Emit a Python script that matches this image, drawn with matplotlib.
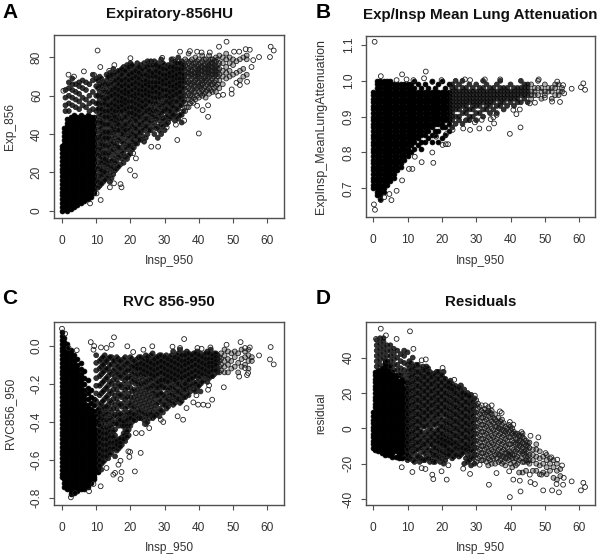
import matplotlib
matplotlib.use("Agg")
import matplotlib.pyplot as plt

plt.rcParams["font.family"] = ["Liberation Sans", "DejaVu Sans"]

# Each panel: one x per column of points, and the y values read along that column.
# The first *_core columns are the saturated part of the cloud, drawn solid.
# Past *_fade the cloud thins out and the rings show again.
# Singles are the stray points outside the clouds.

# Panel A, Exp_856
a_core = 11
a_fade = 36
a_col_x = [0.0, 0.6, 1.5, 2.5, 3.5, 4.5, 5.5, 6.5, 7.5, 8.5, 9.5,
           1, 2, 3, 4, 5, 6, 7, 8, 9, 10,
           11, 12, 13, 14, 15, 16, 17, 18, 19, 20, 21, 22, 23, 24, 25, 26, 27, 28, 29, 30,
           31, 32, 33, 34, 35, 36, 37, 38, 39, 40, 41, 42, 43, 44, 45, 46, 47, 48, 49, 50,
           51, 52, 53, 54,
           10.5, 11.5, 12.5, 13.5, 14.5, 15.5, 16.5, 17.5, 18.5, 19.5, 20.5, 21.5, 22.5, 23.5,
           24.5, 25.5, 26.5, 27.5, 28.5, 29.5, 30.5, 31.5, 32.5, 33.5, 34.5, 35.5, 36.5, 37.5,
           38.5, 39.5, 40.5, 41.5, 42.5, 43.5, 44.5, 45.5]
a_col_y = [
    [0, 2, 4, 6, 8, 10, 12, 14, 16, 18, 20, 22, 24, 26, 28, 30, 32, 34],
    [1, 3, 5, 7, 9, 11, 13, 15, 17, 19, 21, 23, 25, 27, 29, 31, 33, 35, 37, 39, 41, 43],
    [0, 2, 4, 6, 8, 10, 12, 14, 16, 18, 20, 22, 24, 26, 28, 30, 32, 34, 36, 38, 40, 42, 44, 46, 48],
    [1, 3, 5, 7, 9, 11, 13, 15, 17, 19, 21, 23, 25, 27, 29, 31, 33, 35, 37, 39, 41, 43, 45, 47, 49],
    [2, 4, 6, 8, 10, 12, 14, 16, 18, 20, 22, 24, 26, 28, 30, 32, 34, 36, 38, 40, 42, 44, 46, 48, 50],
    [3, 5, 7, 9, 11, 13, 15, 17, 19, 21, 23, 25, 27, 29, 31, 33, 35, 37, 39, 41, 43, 45, 47, 49],
    [4, 6, 8, 10, 12, 14, 16, 18, 20, 22, 24, 26, 28, 30, 32, 34, 36, 38, 40, 42, 44, 46, 48, 50],
    [5, 7, 9, 11, 13, 15, 17, 19, 21, 23, 25, 27, 29, 31, 33, 35, 37, 39, 41, 43, 45, 47, 49],
    [6, 8, 10, 12, 14, 16, 18, 20, 22, 24, 26, 28, 30, 32, 34, 36, 38, 40, 42, 44, 46, 48, 50],
    [7, 9, 11, 13, 15, 17, 19, 21, 23, 25, 27, 29, 31, 33, 35, 37, 39, 41, 43, 45, 47, 49],
    [9, 11, 13, 15, 17, 19, 21, 23, 25, 27, 29, 31, 33, 35, 37, 39, 41, 43, 45, 47, 49],
    [52, 55, 59, 63], [52, 56, 60, 64, 67], [55, 59, 63, 66, 69], [54, 58, 62, 66],
    [53, 57, 61, 65, 67], [55, 59, 64, 68], [54, 58, 63, 67], [52, 56, 60, 66],
    [53, 57, 62, 68, 71], [52, 56, 60, 65, 69],
    [13, 16, 20, 23, 27, 30, 33, 37, 40, 44, 47, 51, 54, 58, 62, 66, 70],
    [15, 19, 22, 26, 30, 34, 37, 41, 45, 48, 52, 55, 59, 63, 67],
    [17, 21, 25, 28, 32, 36, 39, 43, 47, 50, 54, 57, 60, 64, 68, 71],
    [15, 20, 24, 29, 33, 37, 41, 45, 48, 52, 55, 58, 61, 65, 69, 72],
    [19, 23, 27, 32, 36, 41, 44, 48, 51, 54, 57, 60, 63, 66, 70, 74],
    [22, 26, 31, 35, 40, 44, 47, 50, 53, 56, 59, 62, 65, 68, 71],
    [24, 29, 33, 38, 42, 46, 50, 53, 55, 58, 61, 64, 67, 70, 73],
    [25, 30, 35, 40, 43, 47, 51, 54, 57, 60, 62, 65, 68, 72, 75],
    [27, 32, 36, 41, 45, 49, 52, 55, 58, 61, 64, 67, 70, 73, 76],
    [30, 34, 38, 42, 46, 50, 53, 56, 59, 62, 65, 68, 71, 74, 77],
    [33, 37, 41, 45, 49, 52, 55, 58, 60, 63, 66, 69, 72, 75],
    [35, 39, 43, 47, 51, 54, 57, 60, 62, 65, 68, 71, 74, 77],
    [37, 41, 45, 49, 53, 56, 59, 62, 64, 67, 70, 73, 76],
    [36, 42, 46, 50, 54, 57, 60, 62, 65, 67, 70, 73, 77],
    [40, 44, 48, 52, 56, 59, 61, 64, 66, 69, 72, 75, 78],
    [42, 47, 51, 54, 57, 60, 63, 65, 68, 71, 74, 78],
    [40, 46, 50, 54, 58, 61, 64, 66, 69, 72, 75, 78],
    [38, 44, 49, 53, 57, 60, 63, 66, 68, 71, 74, 77],
    [40, 45, 50, 54, 58, 62, 64, 67, 70, 72, 75, 79],
    [42, 47, 52, 55, 59, 62, 65, 68, 70, 73, 76],
    [46, 50, 54, 57, 60, 63, 66, 68, 71, 73, 76],
    [49, 52, 55, 58, 61, 64, 66, 69, 71, 74, 77, 79],
    [47, 51, 55, 59, 62, 65, 67, 70, 72, 75, 78],
    [48, 53, 57, 60, 63, 66, 68, 71, 73, 76, 80],
    [46, 50, 55, 58, 62, 65, 68, 70, 72, 75, 78],
    [52, 56, 60, 63, 66, 68, 71, 73, 76, 79],
    [54, 58, 61, 64, 67, 70, 72, 74, 77, 82],
    [57, 60, 63, 66, 69, 71, 73, 76, 79],
    [58, 62, 65, 68, 70, 72, 74, 77, 80],
    [59, 62, 65, 67, 70, 72, 74, 76, 79],
    [60, 63, 66, 68, 71, 73, 75, 78, 81],
    [59, 62, 65, 68, 70, 72, 74, 76, 79],
    [61, 64, 67, 70, 72, 74, 76, 78, 81],
    [62, 66, 69, 71, 73, 75, 77, 79],
    [62, 65, 68, 71, 73, 75, 78, 80],
    [64, 68, 71, 74, 77, 81],
    [66, 70, 73, 77, 80],
    [69, 72, 75, 79, 82],
    [70, 73, 77, 80],
    [71, 76, 79],
    [72, 78],
    [68, 73, 79],
    [70, 74, 80],
    [71, 79, 81],
    [12, 15, 18, 22, 25, 29, 32, 35, 38, 42, 46, 49, 53, 56, 60, 64, 68],
    [14, 18, 21, 25, 28, 32, 35, 39, 43, 46, 50, 53, 56, 60, 65, 69],
    [16, 20, 24, 27, 30, 34, 38, 41, 45, 49, 52, 56, 58, 62, 66],
    [18, 23, 26, 30, 34, 38, 41, 45, 49, 52, 55, 59, 62, 66, 70],
    [17, 22, 26, 31, 35, 39, 43, 47, 50, 53, 56, 60, 63, 67, 71],
    [21, 25, 29, 34, 38, 42, 46, 49, 52, 55, 58, 61, 64, 68, 72],
    [23, 28, 33, 37, 42, 45, 48, 52, 54, 57, 60, 63, 66, 69, 73],
    [27, 31, 36, 40, 44, 48, 52, 55, 57, 59, 62, 65, 68, 71, 74],
    [28, 33, 38, 42, 45, 49, 53, 56, 58, 61, 63, 66, 69, 73],
    [29, 34, 39, 43, 47, 51, 54, 57, 60, 62, 65, 68, 71, 75],
    [32, 36, 40, 44, 48, 51, 54, 57, 60, 63, 66, 69, 72, 76],
    [35, 39, 43, 47, 50, 53, 56, 59, 61, 64, 67, 70, 73],
    [37, 41, 45, 49, 52, 55, 58, 61, 63, 66, 69, 72, 75],
    [39, 43, 47, 51, 54, 57, 60, 63, 65, 68, 71, 74],
    [38, 44, 48, 52, 55, 58, 61, 63, 66, 68, 71, 75],
    [42, 46, 50, 53, 57, 60, 62, 65, 67, 70, 73, 76],
    [44, 49, 52, 56, 59, 62, 64, 67, 70, 72, 76],
    [43, 48, 52, 56, 59, 62, 65, 67, 70, 73, 76],
    [42, 47, 51, 55, 59, 61, 64, 67, 69, 72, 75],
    [44, 48, 52, 56, 60, 63, 66, 68, 71, 74, 77],
    [45, 49, 53, 57, 60, 63, 66, 69, 71, 74],
    [48, 52, 56, 59, 62, 65, 67, 70, 72, 75],
    [50, 54, 57, 60, 63, 65, 68, 70, 73, 75],
    [49, 53, 57, 61, 64, 66, 69, 71, 74, 77],
    [50, 55, 59, 62, 65, 67, 69, 72, 74, 77],
    [52, 57, 60, 64, 67, 69, 71, 74, 76],
    [54, 58, 62, 65, 67, 70, 72, 75, 78],
    [56, 60, 63, 66, 68, 71, 73, 75, 78],
    [59, 62, 65, 67, 70, 72, 75, 77],
    [60, 64, 67, 69, 71, 73, 75, 78],
    [61, 64, 66, 69, 71, 73, 75, 77],
    [61, 64, 67, 69, 72, 74, 76, 79],
    [63, 66, 69, 71, 73, 75, 77],
    [63, 66, 68, 71, 73, 75, 77, 79],
    [64, 67, 70, 72, 74, 76, 78],
    [66, 70, 72, 74, 76, 79],
]
a_single_x = [10.4, 11.2, 1.9, 3.5, 6.4, 9.4, 0.4, 15.3, 13.8, 20, 25.7, 29.3, 32.5, 34.5, 37.4,
              39.5, 40.8, 43.2, 45.9, 48.1, 50.3, 51.8, 53.7, 54.9, 57.6, 60.8, 61, 61.9, 55.4,
              55.9, 54.1, 52, 51, 49.6, 49.6, 47.1, 45.7, 42.7, 42.7, 40, 41.1, 39.5, 38.4, 33.7,
              33.3, 35.7, 26.1, 28.1, 30.6, 21.3, 21.6, 20.8, 19.9, 17.4, 17.1, 15.2, 14, 11.3,
              10.1, 8.2]
a_single_y = [83.6, 75, 71, 70, 72.7, 70.8, 62.6, 76, 73, 79.6, 77.7, 79.8, 79, 83, 83.3,
              83, 82.6, 82.6, 85.6, 88.2, 83, 83, 84.3, 84, 80.2, 80.2, 85.6, 83.6, 75,
              78.6, 67.3, 65.6, 66.8, 63.3, 61, 60.5, 60, 55, 49, 40.3, 52.5, 54.8, 56.3, 36.9,
              44.9, 47, 33.4, 33.4, 43.5, 18.3, 27.3, 30, 21.2, 12.2, 13.9, 14.3, 12.2, 5.6,
              9, 3.8]

# Panel B, ExpInsp_MeanLungAttenuation, column values in hundredths
b_core = 23
b_fade = 46
b_col_x = [0, 1, 2, 3, 4, 5, 6, 7, 8, 9, 10,
           11, 12, 13, 14, 15, 16, 17, 18, 19, 20, 21, 22,
           23, 24, 25, 26, 27, 28, 29, 30, 31, 32, 33, 34, 35, 36, 37, 38, 39, 40,
           41, 42, 43, 44, 45, 46, 47, 48, 49, 50, 51, 52, 53, 54, 55]
b_col_y = [
    [70, 71, 72, 73, 74, 75, 76, 77, 78, 79, 80, 81, 82, 83, 84, 85, 86, 87, 88, 89, 90, 91, 92, 93, 94, 95, 96, 97],
    [68, 69, 70, 71, 72, 73, 74, 75, 76, 77, 78, 79, 80, 81, 82, 83, 84, 85, 86, 87, 88, 89, 90, 91, 92, 93, 94, 95, 96, 97, 98, 99, 100],
    [67, 68, 69, 70, 71, 72, 73, 74, 75, 76, 77, 78, 79, 80, 81, 82, 83, 84, 85, 86, 87, 88, 89, 90, 91, 92, 93, 94, 95, 96, 97, 98, 99, 100],
    [69, 70, 71, 72, 73, 74, 75, 76, 77, 78, 79, 80, 81, 82, 83, 84, 85, 86, 87, 88, 89, 90, 91, 92, 93, 94, 95, 96, 97, 98, 99, 100],
    [71, 72, 73, 74, 75, 76, 77, 78, 79, 80, 81, 82, 83, 84, 85, 86, 87, 88, 89, 90, 91, 92, 93, 94, 95, 96, 97, 98, 99, 100],
    [72, 73, 74, 75, 76, 77, 78, 79, 80, 81, 82, 83, 84, 85, 86, 87, 88, 89, 90, 91, 92, 93, 94, 95, 96, 97, 98, 99, 100],
    [73, 74, 75, 76, 77, 78, 79, 80, 81, 82, 83, 84, 85, 86, 87, 88, 89, 90, 91, 92, 93, 94, 95, 96, 97, 98, 99],
    [75, 76, 77, 78, 79, 80, 81, 82, 83, 84, 85, 86, 87, 88, 89, 90, 91, 92, 93, 94, 95, 96, 97, 98, 99],
    [76, 77, 78, 79, 80, 81, 82, 83, 84, 85, 86, 87, 88, 89, 90, 91, 92, 93, 94, 95, 96, 97, 98, 99],
    [78, 79, 80, 81, 82, 83, 84, 85, 86, 87, 88, 89, 90, 91, 92, 93, 94, 95, 96, 97, 98, 99],
    [79, 80, 81, 82, 83, 84, 85, 86, 87, 88, 89, 90, 91, 92, 93, 94, 95, 96, 97, 98, 99],
    [80, 82, 83, 84, 85, 86, 87, 88, 89, 90, 91, 92, 93, 94, 95, 96, 97, 98, 99],
    [81, 83, 84, 85, 86, 87, 88, 89, 90, 91, 92, 93, 94, 95, 96, 97, 98, 100],
    [82, 84, 85, 86, 87, 88, 89, 90, 91, 92, 93, 94, 95, 96, 97, 99],
    [81, 83, 85, 86, 87, 88, 89, 90, 91, 92, 93, 94, 95, 96, 97, 98],
    [83, 85, 86, 87, 88, 89, 90, 91, 92, 93, 94, 95, 96, 97, 99],
    [84, 86, 87, 88, 89, 90, 91, 92, 93, 94, 95, 96, 97, 98],
    [83, 85, 87, 88, 89, 90, 91, 92, 93, 94, 95, 96, 97, 100],
    [85, 86, 88, 89, 90, 91, 92, 93, 94, 95, 96, 97, 98],
    [83, 86, 88, 89, 90, 91, 92, 93, 94, 95, 96, 97, 99],
    [84, 87, 88, 89, 90, 91, 92, 93, 94, 95, 96, 97, 100],
    [85, 87, 89, 90, 91, 92, 93, 94, 95, 96, 97, 98],
    [86, 88, 89, 90, 91, 92, 93, 94, 95, 96, 97, 99],
    [87, 89, 90, 91, 92, 93, 94, 95, 96, 97, 98, 99],
    [88, 90, 92, 93, 94, 95, 96, 97, 98, 100],
    [89, 90, 92, 93, 94, 95, 96, 97, 99],
    [88, 91, 93, 94, 95, 96, 97, 98, 100],
    [89, 91, 92, 93, 94, 95, 96, 97, 98],
    [89, 90, 92, 94, 95, 96, 97, 99],
    [90, 92, 93, 94, 95, 96, 97, 98],
    [89, 91, 93, 94, 95, 96, 97, 99],
    [91, 93, 94, 95, 96, 97, 98],
    [90, 92, 94, 95, 96, 97, 98, 100],
    [92, 93, 94, 95, 96, 97, 99],
    [91, 93, 94, 95, 96, 97, 98],
    [92, 94, 95, 96, 97, 98],
    [91, 93, 95, 96, 97, 99],
    [93, 94, 95, 96, 97, 98, 100],
    [92, 94, 95, 96, 97, 98],
    [93, 95, 96, 97, 98],
    [94, 95, 96, 97, 99],
    [93, 95, 96, 97, 98],
    [94, 95, 96, 97, 98],
    [94, 96, 97, 98, 100],
    [95, 96, 97, 98, 99],
    [94, 96, 97, 98, 99],
    [95, 96, 97, 99],
    [96, 97, 98],
    [96, 98, 100],
    [95, 97, 98],
    [96, 97, 99],
    [97, 98],
    [95, 97, 98],
    [96, 98, 99],
    [96, 97, 99],
    [97, 98],
]
b_single_x = [0.4, 15.3, 8.4, 9.7, 14.8, 0.5, 0.2, 2.2, 5.3, 4.7, 6.8, 8.4, 3.2, 10.4, 11.4, 14.1,
              17.5, 17.2, 12.1, 39.8, 42.9, 33.7, 30.9, 28.2, 26.2, 35.2, 34.2, 31.6, 29.6, 41.7,
              40.8, 42.7, 21.1, 21.8, 20.2, 18.3, 21.2, 23.1, 35.9, 35, 60.5, 61.2, 61.7, 57.8,
              54.4, 52.1, 50, 47.1, 45.6, 55.6, 53.6, 48.2, 37, 32.5, 28.2, 26.7, 19.9, 17.2,
              11.7, 6.8, 2.2, 55.3]
b_single_y = [1.109, 1.026, 1.018, 1.004, 1.007, 0.64, 0.655, 0.667, 0.667, 0.684, 0.693, 0.722,
              0.675, 0.754, 0.754, 0.773, 0.771, 0.8, 0.788, 0.852, 0.87, 0.867, 0.867, 0.863,
              0.867, 0.881, 0.893, 0.891, 0.884, 0.907, 0.919, 0.92, 0.823, 0.823, 0.821, 0.844,
              0.851, 0.863, 0.905, 0.898, 0.982, 0.993, 0.975, 0.978, 0.941, 0.942, 0.953, 0.939,
              0.937, 0.965, 0.998, 1.004, 1.004, 1.004, 1.002, 1.004, 1.002, 0.997, 1.002, 1.002,
              1.013, 0.988]

# Panel C, RVC856_950, column values in hundredths
c_core = 12
c_fade = 46
c_col_x = [0.0, 0.6, 1.5, 2.5, 3.5, 4.5, 5.5, 6.5, 7.5, 8.5, 9.5,
           10.5, 11.5, 12.5, 13.5, 14.5, 15.5, 16.5, 17.5, 18.5, 19.5,
           20.5, 21.5, 22.5, 23.5, 24.5, 25.5, 26.5, 27.5, 28.5, 29.5,
           30.5, 31.5, 32.5, 33.5, 34.5, 35.5, 36.5, 37.5, 38.5, 39.5,
           40.5, 41.5, 42.5, 43.5, 44.5, 45.5, 46.5, 47.5, 48.5, 49.5,
           50.5, 51.5, 52.5, 53.5, 54.5, 55.5,
           10, 11, 12, 13, 14, 15, 16, 17, 18, 19, 20, 21, 22, 23, 24, 25, 26, 27,
           28, 29, 30, 31, 32, 33, 34, 35, 36, 37, 38, 39, 40, 41, 42, 43, 44, 45, 46]
c_col_y = [
    [7, 5, 3, 1, -1, -3, -5, -7, -9, -11, -13, -15, -17, -19, -21, -23, -25, -27, -29, -31, -33, -35, -37, -39, -41, -43, -45, -47, -49, -51, -53, -55, -57, -59, -61, -63, -65, -67, -69],
    [4, 2, 0, -2, -4, -6, -8, -10, -12, -14, -16, -18, -20, -22, -24, -26, -28, -30, -32, -34, -36, -38, -40, -42, -44, -46, -48, -50, -52, -54, -56, -58, -60, -62, -64, -66, -68, -70, -72, -74],
    [1, -1, -3, -5, -7, -9, -11, -13, -15, -17, -19, -21, -23, -25, -27, -29, -31, -33, -35, -37, -39, -41, -43, -45, -47, -49, -51, -53, -55, -57, -59, -61, -63, -65, -67, -69, -71, -73, -75],
    [-2, -4, -6, -8, -10, -12, -14, -16, -18, -20, -22, -24, -26, -28, -30, -32, -34, -36, -38, -40, -42, -44, -46, -48, -50, -52, -54, -56, -58, -60, -62, -64, -66, -68, -70, -72, -74, -76, -78],
    [-5, -7, -9, -11, -13, -15, -17, -19, -21, -23, -25, -27, -29, -31, -33, -35, -37, -39, -41, -43, -45, -47, -49, -51, -53, -55, -57, -59, -61, -63, -65, -67, -69, -71, -73, -75, -77],
    [-7, -10, -12, -14, -16, -18, -20, -22, -24, -26, -28, -30, -32, -34, -36, -38, -40, -42, -44, -46, -48, -50, -52, -54, -56, -58, -60, -62, -64, -66, -68, -70, -72, -74, -76],
    [-9, -12, -15, -17, -19, -21, -23, -25, -27, -29, -31, -33, -35, -37, -39, -41, -43, -45, -47, -49, -51, -53, -55, -57, -59, -61, -63, -65, -67, -69, -71, -73, -75],
    [-13, -17, -20, -23, -26, -28, -30, -32, -34, -36, -38, -40, -42, -44, -46, -48, -50, -52, -54, -56, -58, -60, -62, -64, -66, -68, -70, -72, -74, -75],
    [-18, -22, -25, -28, -31, -33, -35, -37, -39, -41, -43, -45, -47, -49, -51, -53, -55, -57, -59, -61, -63, -65, -67, -69, -71, -73, -74],
    [-23, -27, -30, -33, -36, -38, -40, -42, -44, -46, -48, -50, -52, -54, -56, -58, -60, -62, -64, -66, -68, -70, -72],
    [-28, -31, -34, -37, -39, -41, -43, -45, -47, -49, -51, -53, -55, -57, -59, -61, -63, -65, -67, -69, -70],
    [-33, -36, -39, -41, -44, -46, -48, -50, -52, -54, -56, -58, -60, -62, -64, -66],
    [-7, -11, -15, -20, -25, -30, -34, -38, -41, -44, -47, -50, -53, -56, -59, -62, -65],
    [-5, -9, -13, -18, -23, -28, -33, -37, -41, -45, -48, -51, -54, -57, -60],
    [-7, -12, -16, -21, -26, -31, -36, -40, -44, -47, -50, -53, -56, -59],
    [-6, -10, -15, -20, -25, -30, -35, -39, -43, -47, -50, -53, -56],
    [-8, -12, -16, -21, -26, -31, -36, -40, -44, -47, -50, -53, -58],
    [-7, -11, -15, -20, -25, -30, -35, -39, -42, -49, -51, -54],
    [-9, -13, -17, -22, -27, -32, -37, -40, -42, -48, -50, -52],
    [-6, -10, -14, -18, -23, -28, -33, -38, -41, -44, -47, -50],
    [-8, -12, -16, -20, -25, -30, -35, -38, -41, -44, -47],
    [-7, -11, -15, -19, -24, -29, -33, -37, -40],
    [-9, -12, -16, -20, -25, -30, -35, -39],
    [-6, -10, -13, -17, -21, -26, -31, -35, -38],
    [-8, -11, -14, -18, -22, -27, -32, -36],
    [-5, -9, -12, -15, -19, -23, -28, -33, -37, -41],
    [-7, -10, -13, -16, -20, -24, -29, -34, -38],
    [-4, -8, -11, -14, -17, -21, -25, -30, -35, -38],
    [-6, -9, -12, -15, -18, -22, -26, -31, -36],
    [-5, -8, -11, -14, -17, -20, -24, -28, -33, -37],
    [-7, -10, -13, -16, -19, -22, -26, -31, -35],
    [-5, -8, -11, -14, -17, -20, -25, -29, -33],
    [-6, -9, -12, -15, -18, -22, -26, -30],
    [-3, -7, -10, -13, -16, -19, -23, -27, -31],
    [-5, -8, -11, -14, -17, -20, -24, -28],
    [-2, -6, -9, -12, -15, -18, -22, -26, -30],
    [-4, -7, -10, -13, -16, -19, -23, -27],
    [-3, -6, -9, -12, -15, -18, -21, -25],
    [-5, -8, -11, -14, -17, -20, -24],
    [-4, -7, -10, -13, -16, -19, -23],
    [-3, -6, -9, -12, -15, -19, -22],
    [-4, -7, -10, -13, -16, -20, -24],
    [-5, -8, -11, -14, -18],
    [-3, -6, -9, -12, -15, -19],
    [-2, -5, -8, -10, -13, -16],
    [-4, -6, -8, -10, -12, -15],
    [-5, -7, -9, -12, -14],
    [-4, -7, -10, -13],
    [-2, -5, -8, -11, -14],
    [-3, -7, -10, -14],
    [-4, -8, -12],
    [-3, -6, -11],
    [-4, -9, -14],
    [-2, -7, -11],
    [-3, -6, -10],
    [-2, -5, -8, -12],
    [-6, -8],
    [-5, -9, -13, -17, -21, -25, -29],
    [-8, -12, -16, -21, -26, -31, -35, -38, -42, -45, -48, -51, -54, -57, -60, -63],
    [-6, -10, -14, -19, -24, -29, -32, -36, -39, -43, -46, -49, -52, -55, -58, -61],
    [-8, -12, -17, -22, -27, -32, -35, -39, -43, -46, -49, -52, -55, -58],
    [-6, -10, -14, -19, -24, -29, -33, -38, -42, -45, -48, -51, -54, -57],
    [-8, -13, -18, -23, -28, -33, -37, -41, -45, -48, -51, -54],
    [-6, -10, -14, -18, -23, -28, -33, -37, -41, -50, -52, -55],
    [-8, -12, -16, -21, -26, -31, -36, -39, -49, -51, -53],
    [-7, -11, -15, -20, -25, -30, -35, -40, -42, -46, -49],
    [-9, -13, -17, -22, -27, -32, -36, -39, -42, -45, -48],
    [-6, -10, -13, -17, -22, -27, -31, -35, -38, -42],
    [-8, -11, -14, -18, -23, -27, -32, -36, -39],
    [-7, -10, -12, -15, -19, -23, -28, -33, -37],
    [-6, -9, -12, -15, -20, -24, -29, -34, -38],
    [-7, -10, -13, -16, -20, -25, -30, -35, -39],
    [-6, -8, -11, -14, -18, -22, -26, -31, -36, -40],
    [-5, -9, -12, -15, -18, -22, -27, -32, -36],
    [-7, -10, -13, -16, -20, -24, -28, -33, -37],
    [-6, -9, -12, -15, -19, -22, -26, -30, -35],
    [-5, -8, -11, -14, -18, -21, -25, -29, -34],
    [-6, -9, -12, -15, -18, -22, -27, -31],
    [-7, -10, -13, -16, -19, -23, -28, -32],
    [-5, -8, -11, -14, -17, -21, -25, -29],
    [-6, -9, -12, -15, -18, -22, -26, -30],
    [-4, -7, -10, -13, -16, -20, -24, -28],
    [-5, -8, -11, -14, -17, -21, -25, -29],
    [-5, -8, -10, -13, -16, -20, -23, -27],
    [-4, -7, -9, -12, -15, -18, -22, -26],
    [-5, -8, -11, -14, -17, -21],
    [-4, -7, -10, -13, -16, -20, -24],
    [-5, -8, -11, -14, -17, -21],
    [-6, -9, -12, -15, -19],
    [-4, -7, -10, -13, -16],
    [-4, -7, -9, -11, -14, -17],
    [-5, -7, -9, -11, -13, -16],
    [-4, -6, -8, -10, -13],
    [-6, -8, -11, -14],
]
c_single_x = [0, 0.9, 1.9, 4.3, 8.4, 9.4, 9.2, 11.4, 13, 15.2, 14.5, 19.1, 20.8, 23.8, 26.4, 32.3,
              35.7, 34.5, 39.6, 40.8, 43.4, 48.1, 52.2, 53.5, 54.9, 57.6, 61, 60.8, 61.9, 54.4,
              53.5, 54.1, 51.8, 47.3, 43.9, 42.7, 41.3, 39.8, 38.4, 43, 42.7, 39.3, 35.4, 33.8,
              29.6, 28.9, 25.5, 24.2, 23.3, 21.6, 23, 21.3, 17.1, 17.4, 15.5, 15, 19.4, 19.9,
              19.7, 17.1, 16.5, 11.3, 7.9, 2.6, 3.8, 9.2, 13, 36.4]
c_single_y = [0.089, 0.063, -0.012, -0.024, 0.019, -0.002, -0.021, -0.009, -0.012, 0.044, 0.005,
              -0.003, -0.033, -0.021, -0.003, -0.005, 0.035, -0.012, -0.012, -0.016, -0.009,
              0.005, 0.019, -0.012, -0.009, -0.051, -0.007, -0.072, -0.098, -0.143, -0.117,
              -0.154, -0.162, -0.218, -0.283, -0.313, -0.309, -0.309, -0.297, -0.208, -0.231,
              -0.26, -0.388, -0.37, -0.4, -0.388, -0.432, -0.41, -0.458, -0.458, -0.562, -0.659,
              -0.699, -0.662, -0.667, -0.676, -0.554, -0.557, -0.583, -0.603, -0.624, -0.737,
              -0.763, -0.795, -0.772, -0.725, -0.641, -0.327]

# Panel D, residual
d_core = 11
d_fade = 30
d_col_x = [0.0, 0.6, 1.5, 2.5, 3.5, 4.5, 5.5, 6.5, 7.5, 8.5, 9.5,
           1, 2, 3, 4, 5, 6, 7, 8, 9, 10,
           10.5, 11.5, 12.5, 13.5, 14.5, 15.5, 16.5, 17.5, 18.5, 19.5,
           20.5, 21.5, 22.5, 23.5, 24.5, 25.5, 26.5, 27.5, 28.5, 29.5,
           30.5, 31.5, 32.5, 33.5, 34.5, 35.5, 36.5, 37.5, 38.5, 39.5,
           40.5, 41.5, 42.5, 43.5, 44.5, 45.5, 46.5, 47.5, 48.5, 49.5,
           50.5, 51.5, 52.5, 53.5, 54.5,
           10, 11, 12, 13, 14, 15, 16, 17, 18, 19, 20, 21, 22, 23, 24, 25, 26, 27,
           28, 29, 30, 31, 32, 33, 34, 35, 36, 37, 38, 39, 40, 41, 42, 43, 44, 45]
d_col_y = [
    [-11, -9, -7, -5, -3, -1, 1, 3, 5, 7, 9],
    [-12, -10, -8, -6, -4, -2, 0, 2, 4, 6, 8, 10, 12, 14, 16, 18, 20, 22, 24, 26, 28, 30, 32],
    [-13, -11, -9, -7, -5, -3, -1, 1, 3, 5, 7, 9, 11, 13, 15, 17, 19, 21, 23, 25, 27, 29, 31, 33],
    [-14, -12, -10, -8, -6, -4, -2, 0, 2, 4, 6, 8, 10, 12, 14, 16, 18, 20, 22, 24, 26, 28, 30, 32, 34],
    [-15, -13, -11, -9, -7, -5, -3, -1, 1, 3, 5, 7, 9, 11, 13, 15, 17, 19, 21, 23, 25, 27, 29, 31, 33, 35, 37, 38],
    [-15, -14, -12, -10, -8, -6, -4, -2, 0, 2, 4, 6, 8, 10, 12, 14, 16, 18, 20, 22, 24, 26, 28, 30, 32, 34, 36],
    [-16, -14, -12, -10, -8, -6, -4, -2, 0, 2, 4, 6, 8, 10, 12, 14, 16, 18, 20, 22, 24, 26, 28, 30, 32],
    [-16, -13, -11, -9, -7, -5, -3, -1, 1, 3, 5, 7, 9, 11, 13, 15, 17, 19, 21, 23, 25, 27, 29, 30],
    [-17, -15, -13, -11, -9, -7, -5, -3, -1, 1, 3, 5, 7, 9, 11, 13, 15, 17, 19, 21, 23, 25, 27, 30],
    [-17, -14, -12, -10, -8, -6, -4, -2, 0, 2, 4, 6, 8, 10, 12, 14, 16, 18, 20, 22, 24, 26, 28],
    [-16, -14, -11, -9, -7, -5, -3, -1, 1, 3, 5, 7, 9, 11, 13, 15, 17, 19, 21, 23, 26],
    [35, 38, 41, 44, 47, 50], [36, 39, 42, 45, 48, 51], [40, 43, 46, 49, 51], [38, 41, 44, 47],
    [35, 38, 41, 44, 47], [33, 36, 39, 42, 45], [33, 36, 40, 44], [31, 34, 38, 42],
    [30, 33, 37, 41, 44], [28, 32, 36, 43],
    [-17, -14, -10, -6, -2, 2, 6, 10, 14, 18, 22, 26, 30, 34, 38],
    [-18, -13, -9, -5, -1, 3, 7, 11, 15, 19, 23, 27, 31, 35, 40],
    [-17, -12, -8, -4, 0, 4, 8, 12, 16, 20, 24, 28, 32, 36],
    [-19, -15, -10, -6, -2, 2, 6, 10, 14, 18, 22, 26, 30, 34],
    [-18, -13, -9, -4, 1, 5, 9, 13, 17, 21, 25, 29, 33, 35],
    [-16, -11, -7, -2, 3, 7, 11, 15, 19, 23, 27, 31, 35],
    [-19, -14, -9, -5, 0, 5, 9, 13, 17, 21, 25, 29, 32],
    [-19, -15, -11, -7, -3, 2, 7, 11, 15, 19, 23, 27, 31],
    [-17, -13, -9, -5, -1, 4, 8, 12, 16, 20, 24, 28, 32],
    [-19, -14, -10, -7, -3, 1, 6, 10, 14, 18, 22, 26, 30],
    [-20, -15, -11, -8, -5, -1, 3, 8, 12, 16, 20, 24, 28, 32],
    [-16, -12, -9, -6, -2, 2, 6, 10, 14, 18, 22, 26],
    [-14, -10, -7, -3, 1, 5, 9, 13, 17, 21, 24, 27],
    [-16, -12, -8, -4, 0, 4, 8, 12, 16, 20, 23],
    [-14, -10, -6, -2, 2, 6, 10, 14, 18, 22],
    [-15, -11, -7, -3, 1, 5, 9, 13, 17, 21, 24],
    [-20, -13, -9, -5, -1, 3, 7, 11, 15, 19, 22],
    [-19, -15, -11, -7, -3, 1, 5, 9, 13, 17, 20],
    [-21, -16, -12, -8, -4, 0, 4, 8, 12, 16, 19],
    [-20, -15, -11, -7, -3, 1, 5, 9, 13, 17],
    [-17, -13, -9, -5, -1, 3, 7, 11, 14],
    [-18, -14, -10, -6, -2, 2, 6, 10],
    [-16, -12, -8, -4, 0, 4, 8, 11],
    [-21, -17, -13, -9, -5, -1, 3, 7, 10, 12],
    [-20, -16, -12, -8, -4, 0, 4, 8, 10],
    [-20, -15, -11, -7, -3, 1, 5, 8],
    [-19, -15, -12, -8, -4, 0, 3, 6],
    [-20, -16, -13, -9, -5, -1, 2, 5],
    [-21, -17, -14, -10, -6, -2, 1],
    [-18, -15, -13, -9, -5, -2, 2],
    [-22, -17, -15, -11, -7, -3, 0],
    [-21, -17, -13, -9, -6, -3],
    [-25, -18, -14, -10, -7, -4],
    [-25, -19, -14, -11, -8, -5, -3],
    [-24, -18, -16, -12, -10, -7],
    [-20, -18, -15, -11, -8],
    [-24, -18, -15, -12],
    [-24, -20, -16, -12, -9],
    [-26, -21, -17, -13],
    [-25, -20, -16],
    [-26, -22, -18, -15],
    [-24, -20, -17],
    [-28, -22, -18],
    [-29, -24, -20],
    [-27, -23],
    [-18, -15, -12, -8, -4, 0, 4, 8, 12, 16, 20, 24],
    [-16, -11, -7, -3, 1, 5, 9, 13, 17, 21, 25, 29, 33, 37],
    [-19, -14, -10, -6, -2, 2, 6, 10, 14, 18, 22, 26, 30, 34],
    [-16, -12, -8, -4, 0, 4, 8, 12, 16, 20, 24, 28, 32, 36],
    [-17, -11, -7, -2, 3, 7, 11, 15, 19, 23, 27, 31],
    [-18, -14, -9, -5, 1, 5, 9, 13, 17, 21, 25, 29, 33],
    [-17, -12, -7, -3, 2, 7, 11, 15, 19, 23, 27, 31, 34],
    [-17, -13, -9, -5, -1, 4, 9, 13, 17, 21, 25, 29],
    [-19, -15, -11, -7, -3, 2, 6, 10, 14, 18, 22, 26, 30],
    [-16, -12, -8, -5, -1, 3, 8, 12, 16, 20, 24, 28, 32],
    [-17, -13, -9, -6, -3, 1, 5, 10, 14, 18, 22, 26, 30],
    [-18, -14, -10, -7, -4, 0, 4, 8, 12, 16, 20, 24, 28],
    [-15, -12, -8, -5, -1, 3, 7, 11, 15, 19, 23, 26],
    [-17, -13, -9, -6, -2, 2, 6, 10, 14, 18, 22, 25],
    [-15, -11, -8, -4, 0, 4, 8, 12, 16, 20, 24],
    [-16, -12, -9, -5, -1, 3, 7, 11, 15, 19, 23],
    [-14, -11, -7, -3, 1, 5, 9, 13, 17, 20],
    [-17, -12, -9, -5, -1, 3, 7, 11, 15, 19],
    [-18, -13, -10, -6, -2, 2, 6, 10, 14, 18],
    [-17, -13, -9, -5, -1, 3, 7, 11, 15],
    [-19, -15, -11, -7, -3, 1, 5, 9, 13, 16],
    [-16, -12, -8, -4, 0, 4, 8, 12],
    [-18, -14, -10, -6, -2, 2, 6, 9],
    [-19, -15, -11, -7, -3, 1, 5, 9],
    [-18, -14, -10, -6, -2, 2, 6, 9],
    [-17, -13, -9, -5, -1, 3, 6],
    [-17, -14, -10, -6, -2, 1, 4],
    [-18, -15, -11, -7, -3, 0, 4],
    [-19, -16, -12, -8, -4, -1, 3],
    [-17, -14, -11, -7, -3, 0],
    [-20, -16, -14, -9, -5, -1, 1],
    [-19, -15, -12, -8, -4, -2],
    [-20, -16, -12, -9, -6, -3],
    [-17, -13, -10, -7, -4],
    [-19, -15, -13, -9, -6],
    [-19, -16, -13, -10, -8],
]
d_single_x = [2.2, 10.7, 11.7, 6.8, 0.8, 3.7, 15.3, 14.1, 20.2, 23.6, 25.5, 29.6, 34.5, 32.7, 31.6,
              36.9, 37.4, 39.8, 40.8, 43.2, 45.8, 48.1, 50.2, 51.9, 53.6, 55, 55.5, 57.8, 61.2,
              61.7, 60.5, 54.1, 52.1, 49.5, 42.9, 39.8, 33.7, 21.4, 17.5, 17.2, 15.2, 14.1, 11.4,
              28.2, 26.2, 21.9, 19.9, 35.9, 40.8, 42.7, 45.8, 47.1, 31, 39.6, 45.6, 49, 55.3,
              53.4, 8.3]
d_single_y = [56.4, 54.9, 45, 50.6, 50.6, 52.6, 39, 38.5, 34.2, 27.5, 24.3, 18.5, 13, 13, 13,
              9.6, 8.7, 3.6, 2.1, -2.1, -4.2, -5.1, -14, -16.4, -17.7, -21, -28, -30, -30.8,
              -33.2, -35.1, -36.2, -35.1, -35.1, -35.7, -38.9, -31.9, -29, -28.7, -26.2, -23,
              -22.5, -24.7, -25.8, -22.8, -20.9, -24.3, -25.3, -29, -29.6, -30.4, -31.5, -20.6,
              -24.3, -26.2, -26.2, -31.9, -31.5, -22]

x_ticks = [0, 10, 20, 30, 40, 50, 60]
grey = "#505050"
ink = "#202020"


def flatten(col_x, col_y, scale):
    xs = []
    ys = []
    for x, column in zip(col_x, col_y):
        for y in column:
            xs.append(x)
            ys.append(y * scale)
    return xs, ys


def draw_panel(rect, letter, letter_x, letter_y, title, ylabel, ylabel_size, col_x, col_y, core, fade,
               single_x, single_y, scale, xlim, ylim, yticks, yticklabels):
    left, top, right, bottom = rect
    ax = fig.add_axes([left / 600, 1 - bottom / 555, (right - left) / 600, (bottom - top) / 555])

    # overplotted rings read as solid black in the core, nearly black in the cloud
    xs, ys = flatten(col_x[:core], col_y[:core], scale)
    ax.scatter(xs, ys, s=12, facecolors="black", edgecolors="black", linewidths=0.55)
    xs, ys = flatten(col_x[core:], col_y[core:], scale)
    faces = []
    for x in xs:
        if x < fade:
            faces.append((0, 0, 0, 0.8))
        else:
            faces.append((0, 0, 0, 0.3))
    ax.scatter(xs, ys, s=12, facecolors=faces, edgecolors=ink, linewidths=0.55)
    ax.scatter(single_x, single_y, s=12, facecolors="none", edgecolors=ink, linewidths=0.6)

    ax.set_xlim(xlim)
    ax.set_ylim(ylim)
    ax.set_xticks(x_ticks)
    ax.set_yticks(yticks)
    ax.set_yticklabels(yticklabels, rotation=90, va="center")
    ax.tick_params(length=3.8, width=0.8, color=grey, labelcolor="#333333", labelsize=8.6)
    ax.tick_params(axis="x", pad=8.5)
    ax.tick_params(axis="y", pad=4.2)
    for spine in ax.spines.values():
        spine.set_color(grey)
        spine.set_linewidth(1.0)
    ax.set_xlabel("Insp_950", fontsize=8.6, color="#333333", labelpad=6)
    ax.set_ylabel(ylabel, fontsize=ylabel_size, color="#333333", labelpad=11)
    ax.set_title(title, fontsize=10.9, fontweight="bold", color="#111111", pad=12)
    fig.text(letter_x / 600, 1 - letter_y / 555, letter, fontsize=15, fontweight="bold",
             color="black", ha="left", va="center")


fig = plt.figure(figsize=(6, 5.55), dpi=100)

draw_panel((54, 35, 284, 218), "A", 2, 12, "Expiratory-856HU", "Exp_856", 8.6,
           a_col_x, a_col_y, a_core, a_fade, a_single_x, a_single_y, 1,
           (-2.34, 64.9), (-3.8, 91.7), [0, 20, 40, 60, 80], ["0", "20", "40", "60", "80"])
draw_panel((365.7, 35.7, 595, 217.3), "B", 316, 12, "Exp/Insp Mean Lung Attenuation",
           "ExpInsp_MeanLungAttenuation", 9,
           b_col_x, b_col_y, b_core, b_fade, b_single_x, b_single_y, 0.01,
           (-2.2, 64.6), (0.619, 1.126), [0.7, 0.8, 0.9, 1.0, 1.1],
           ["0.7", "0.8", "0.9", "1.0", "1.1"])
draw_panel((54, 322.3, 284, 504.7), "C", 2, 299, "RVC 856-950", "RVC856_950", 8.6,
           c_col_x, c_col_y, c_core, c_fade, c_single_x, c_single_y, 0.01,
           (-2.34, 64.9), (-0.8335, 0.1227), [-0.8, -0.6, -0.4, -0.2, 0.0],
           ["-0.8", "-0.6", "-0.4", "-0.2", "0.0"])
draw_panel((365.7, 322.3, 595, 504.7), "D", 316, 299, "Residuals", "residual", 8.6,
           d_col_x, d_col_y, d_core, d_fade, d_single_x, d_single_y, 1,
           (-2.2, 64.6), (-43.2, 60), [-40, -20, 0, 20, 40], ["-40", "-20", "0", "20", "40"])

fig.savefig("out.png", dpi=100)
